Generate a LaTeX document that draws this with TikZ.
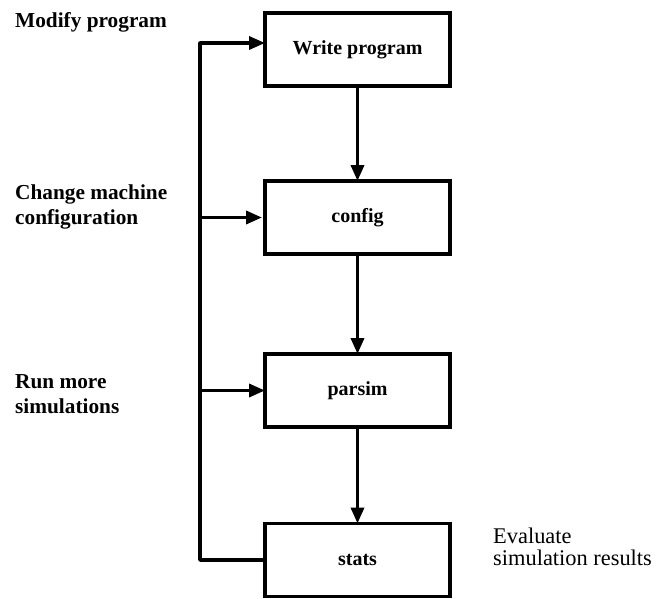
\documentclass[tikz,border=0pt]{standalone}
\usepackage{fontspec}
\setmainfont{Liberation Serif}
\usetikzlibrary{arrows.meta}
\tikzset{
  stepbox/.style={draw, line width=3.5pt, minimum width=185pt, minimum height=73pt,
    inner sep=0pt, outer sep=0pt, font=\fontsize{20}{24}\selectfont\bfseries},
  flow/.style={line width=3.5pt, -{Triangle[length=16pt,width=13pt]}},
  link/.style={line width=3.5pt, line cap=round, line join=round},
  sidelabel/.style={anchor=base west, align=left, inner sep=0pt,
    font=\fontsize{21.3}{25}\selectfont\bfseries},
  notelabel/.style={anchor=base west, align=left, inner sep=0pt,
    font=\fontsize{22.4}{22}\selectfont}
}
\begin{document}
\begin{tikzpicture}[x=1pt,y=-1pt]
\useasboundingbox (0,0) rectangle (658,599);
% boxes
\node[stepbox] (write)  at (357.5,49.5)  {Write program};
\node[stepbox] (config) at (357.5,217.5) {config};
\node[stepbox] (parsim) at (357.5,390.5) {parsim};
\node[stepbox] (stats)  at (357.5,560)   {stats};
% main flow
\draw[flow] (write.south)  -- (config.north);
\draw[flow] (config.south) -- (parsim.north);
\draw[flow] (parsim.south) -- (stats.north);
% feedback
\coordinate (top) at (200,43);
\coordinate (bot) at (200,560);
\draw[link] (stats.west) -- (bot) -- (top);
\draw[flow] (top) -- (top -| write.west);
\draw[flow] (bot |- config.west) -- ([xshift=-3pt]config.west);
\draw[flow] (bot |- parsim.west) -- (parsim.west);
% labels (base anchor = baseline of the last line)
\node[sidelabel] (l1) at (15,28)  {Modify program};
\node[sidelabel] (l2) at (15,224) {Change machine\\configuration};
\node[sidelabel] (l3) at (15,413) {Run more\\simulations};
\node[notelabel] (l4) at (493,565) {Evaluate\\simulation results};
\end{tikzpicture}
\end{document}
